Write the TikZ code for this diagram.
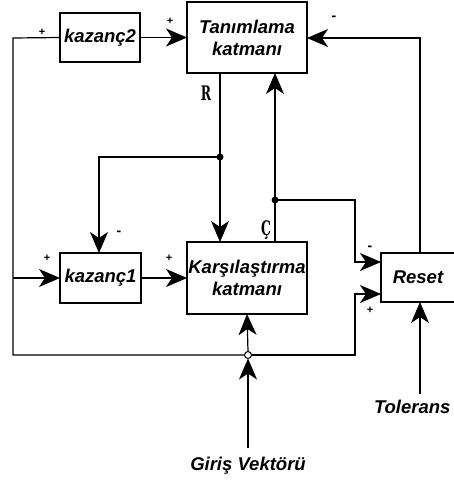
\documentclass[tikz,border=0pt]{standalone}
\usepackage{fontspec}
\setmainfont{Liberation Sans}
\newfontfamily\lblfont{DejaVu Serif}
\usetikzlibrary{arrows.meta}
\begin{document}
\begin{tikzpicture}[x=1pt,y=-1pt,
  line width=1.2pt,
  every node/.style={inner sep=0pt,outer sep=0pt},
  blk/.style={draw,rectangle,font=\bfseries\itshape\fontsize{18.5}{22}\selectfont,align=center},
  txt/.style={font=\bfseries\itshape\fontsize{18.5}{22}\selectfont},
  arr/.style={-{Stealth[length=21pt,width=18pt,inset=6pt]}},
  sgn/.style={font=\bfseries\fontsize{11}{11}\selectfont},
  neg/.style={font=\bfseries\fontsize{14}{14}\selectfont},
  dot/.style={circle,fill,minimum size=7pt},
  hole/.style={circle,draw,fill=white,line width=1pt,minimum size=7pt},
  sym/.style={font=\lblfont\bfseries\fontsize{20}{20}\selectfont}]
\useasboundingbox (0,0) rectangle (453,482);

% blocks
\node[blk,minimum width=80pt,minimum height=49pt] (k2) at (100,37.5) {kazanç2};
\node[blk,minimum width=120pt,minimum height=71pt] (tan) at (247,37.5) {Tanımlama\\katmanı};
\node[blk,minimum width=81pt,minimum height=50pt] (k1) at (100.5,278) {kazanç1};
\node[blk,minimum width=120pt,minimum height=72pt] (kar) at (247,278) {Karşılaştırma\\katmanı};
\node[blk,minimum width=74pt,minimum height=49pt] (rst) at (418,277.5) {Reset};

% external inputs
\node[txt] (giris) at (248,466) {Giriş Vektörü};
\node[txt,anchor=west] (tol) at (374,407) {Tolerans};

% junctions and corners
\coordinate (lt) at (13,38);
\coordinate (lb) at (13,355);
\coordinate (lk1) at (13,278);
\node[hole] (inp) at (248,355) {};
\coordinate (rin2) at (355,294);
\coordinate (rin1) at (355,262);
\node[dot] (jr) at (220,157) {};
\coordinate (jk1) at (99,157);
\node[dot] (jc) at (275,200) {};
\coordinate (rt) at (420,38);

% left feedback trunk
\draw (k2.west) -- (lt) -- (lb) -- (inp.west);
\draw[arr] (inp.east) -| (rin2) -- (rst.west |- rin2);
\draw[arr] (lk1) -- (k1.west);

% forward paths
\draw[arr] (k2.east) -- (tan.west |- k2.east);
\draw[arr] (k1.east) -- (kar.west |- k1.east);

% R output
\draw (tan.south -| jr) -- (jr.center);
\draw[arr] (jr.center) -- (kar.north -| jr);
\draw[arr] (jr.center) -- (jk1) -- (k1.north -| jk1);

% C output
\draw[arr] (kar.north -| jc) -- (tan.south -| jc);
\draw[arr] (jc.center) -| (rin1) -- (rst.west |- rin1);

% reset back to recognition layer
\draw[arr] (rst.north -| rt) -- (rt) -- (tan.east |- rt);

% inputs
\draw[arr] (giris.north |- 0,448) -- (inp.south);
\draw[arr] (inp.north) -- (kar.south);
\draw[arr] (rt |- 0,394) -- (rst.south -| rt);

% signs
\node[sgn] (s1) at (42,32) {+};
\node[sgn] (s2) at (170,21) {+};
\node[sgn] (s3) at (47,258) {+};
\node[sgn] (s4) at (169,258) {+};
\node[sgn] (s5) at (370,310) {+};
\node[neg] (m1) at (334,18) {-};
\node[neg] (m2) at (119,233) {-};
\node[neg] (m3) at (370,248) {-};

% layer output names
\node[sym] (lr) at (206,93) {\scalebox{0.62}[1]{R}};
\node[sym] (lc) at (266,230) {\scalebox{0.62}[1]{Ç}};
\end{tikzpicture}
\end{document}
